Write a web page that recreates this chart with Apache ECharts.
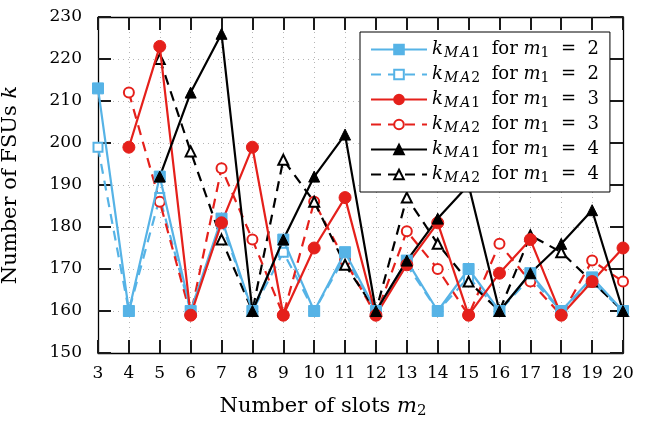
<!DOCTYPE html>
<html><head><meta charset="utf-8">
<script src="https://cdn.jsdelivr.net/npm/echarts@6/dist/echarts.min.js"></script>
<style>html,body{margin:0;padding:0;background:#fff}#c{width:646px;height:423px}</style>
</head><body><div id="c"></div>
<script>
const slots = [3,4,5,6,7,8,9,10,11,12,13,14,15,16,17,18,19,20];
const yTicks = [150,160,170,180,190,200,210,220,230];
// values, null where no point
const ma1_m2 = [213,160,192,160,182,160,177,160,174,160,172,160,170,160,169,160,168,160];
const ma2_m2 = [199,160,187,160,181,160,174,160,173,160,171,160,168,160,168,160,167,160];
const ma1_m3 = [null,199,223,159,181,199,159,175,187,159,171,181,159,169,177,159,167,175];
const ma2_m3 = [null,212,186,159,194,177,159,186,172,159,179,170,159,176,167,159,172,167];
const ma1_m4 = [null,null,192,212,226,160,177,192,202,160,172,182,190,160,169,176,184,160];
const ma2_m4 = [null,null,220,198,177,160,196,186,171,160,187,176,167,160,178,174,167,160];

const BLUE = '#56b3e6', RED = '#e5201b', BLACK = '#000';
const FONT = 'DejaVu Serif';
function pts(arr){ const o=[]; arr.forEach((v,i)=>{ if(v!==null) o.push([slots[i], v]); }); return o; }
function mk(name, arr, color, dashed, symbol, size){
  return {
    name, type:'line', data: pts(arr), xAxisIndex:0, yAxisIndex:0,
    symbol, symbolSize:size, showSymbol:true,
    lineStyle:{color, width:2.2, type: dashed ? [10,7] : 'solid'},
    itemStyle:{color: color, borderColor: color, borderWidth: dashed?2:1},
    emphasis:{disabled:true}, animation:false, z: dashed? 3: 4
  };
}
const labels = {
  a:['1','2'], b:['2','2'], c:['1','3'], d:['2','3'], e:['1','4'], f:['2','4']
};
const series = [
  mk('a', ma1_m2, BLUE, false, 'rect', 11),
  mk('b', ma2_m2, BLUE, true, 'emptyRect', 9),
  mk('c', ma1_m3, RED, false, 'circle', 12),
  mk('d', ma2_m3, RED, true, 'emptyCircle', 10),
  mk('e', ma1_m4, BLACK, false, 'triangle', 11),
  mk('f', ma2_m4, BLACK, true, 'emptyTriangle', 10),
  // invisible carrier so the mirrored top/right axes are drawn
  {name:'mirror', type:'line', data: pts(ma1_m2), xAxisIndex:1, yAxisIndex:1, symbol:'none',
   lineStyle:{opacity:0}, silent:true, z:0, emphasis:{disabled:true}}
];
function axis(extra){
  return Object.assign({
    type:'value',
    axisLine:{show:true, onZero:false, lineStyle:{color:'#000', width:1.3}},
    axisTick:{show:true, inside:true, length:13, lineStyle:{color:'#1a1a1a', width:2}}
  }, extra);
}
const gridLine = {show:true, lineStyle:{color:'#b5b5b5', type:[1,4], width:1}};
const chart = echarts.init(document.getElementById('c'), null, {renderer:'canvas'});
chart.setOption({
  animation:false,
  backgroundColor:'#fff',
  grid:{left:98, right:23, top:17, bottom:70},
  xAxis:[
    axis({min:3, max:20, interval:1, position:'bottom',
      axisLabel:{show:true, margin:12, color:'#000', fontFamily:FONT, fontSize:17},
      splitLine:gridLine}),
    axis({min:3, max:20, interval:1, position:'top',
      axisLabel:{show:false}, splitLine:{show:false}})
  ],
  yAxis:[
    axis({min:150, max:230, interval:10, position:'left',
      axisLabel:{show:true, margin:16, color:'#000', fontFamily:FONT, fontSize:17},
      splitLine:gridLine}),
    axis({min:150, max:230, interval:10, position:'right',
      axisLabel:{show:false}, splitLine:{show:false}})
  ],
  graphic:[
    {type:'text', left:'center', top:394, z:50,
     style:{text:'{n|Number of slots }{i|m}{s|2}', fill:'#000',
       rich:{n:{fontFamily:FONT, fontSize:21, fill:'#000', lineHeight:26},
             i:{fontFamily:FONT, fontStyle:'italic', fontSize:21, fill:'#000', lineHeight:26},
             s:{fontFamily:FONT, fontSize:15, fill:'#000', padding:[10,0,0,0], lineHeight:16}}}},
    {type:'text', x:11, y:185, rotation:Math.PI/2, z:50,
     style:{text:'{n|Number of FSUs }{i|k}', fill:'#000', align:'center', verticalAlign:'middle',
       rich:{n:{fontFamily:FONT, fontSize:21, fill:'#000'},
             i:{fontFamily:FONT, fontStyle:'italic', fontSize:21, fill:'#000'}}}}
  ],
  legend:{
    show:true, orient:'vertical', left:360, top:32,
    backgroundColor:'#fff', borderColor:'#000', borderWidth:1, borderRadius:0,
    padding:[7,11,7,10], itemWidth:56, itemHeight:12, itemGap:4,
    data:['a','b','c','d','e','f'],
    selectedMode:false, z:10,
    textStyle:{color:'#000', fontFamily:FONT, fontSize:18,
      rich:{
        i:{fontFamily:FONT, fontStyle:'italic', fontSize:18, color:'#000', lineHeight:21},
        si:{fontFamily:FONT, fontStyle:'italic', fontSize:14, color:'#000', padding:[7,1,0,1], lineHeight:14},
        s:{fontFamily:FONT, fontSize:14, color:'#000', padding:[7,0,0,0], lineHeight:14},
        n:{fontFamily:FONT, fontSize:18, color:'#000', lineHeight:21}
      }},
    formatter:function(name){
      const l = labels[name];
      return '{i|k}{si|M}{si|A}{s|' + l[0] + '}{n|  for }{i|m}{s|1}{n|  =  ' + l[1] + '}';
    }
  },
  series
});
</script></body></html>
